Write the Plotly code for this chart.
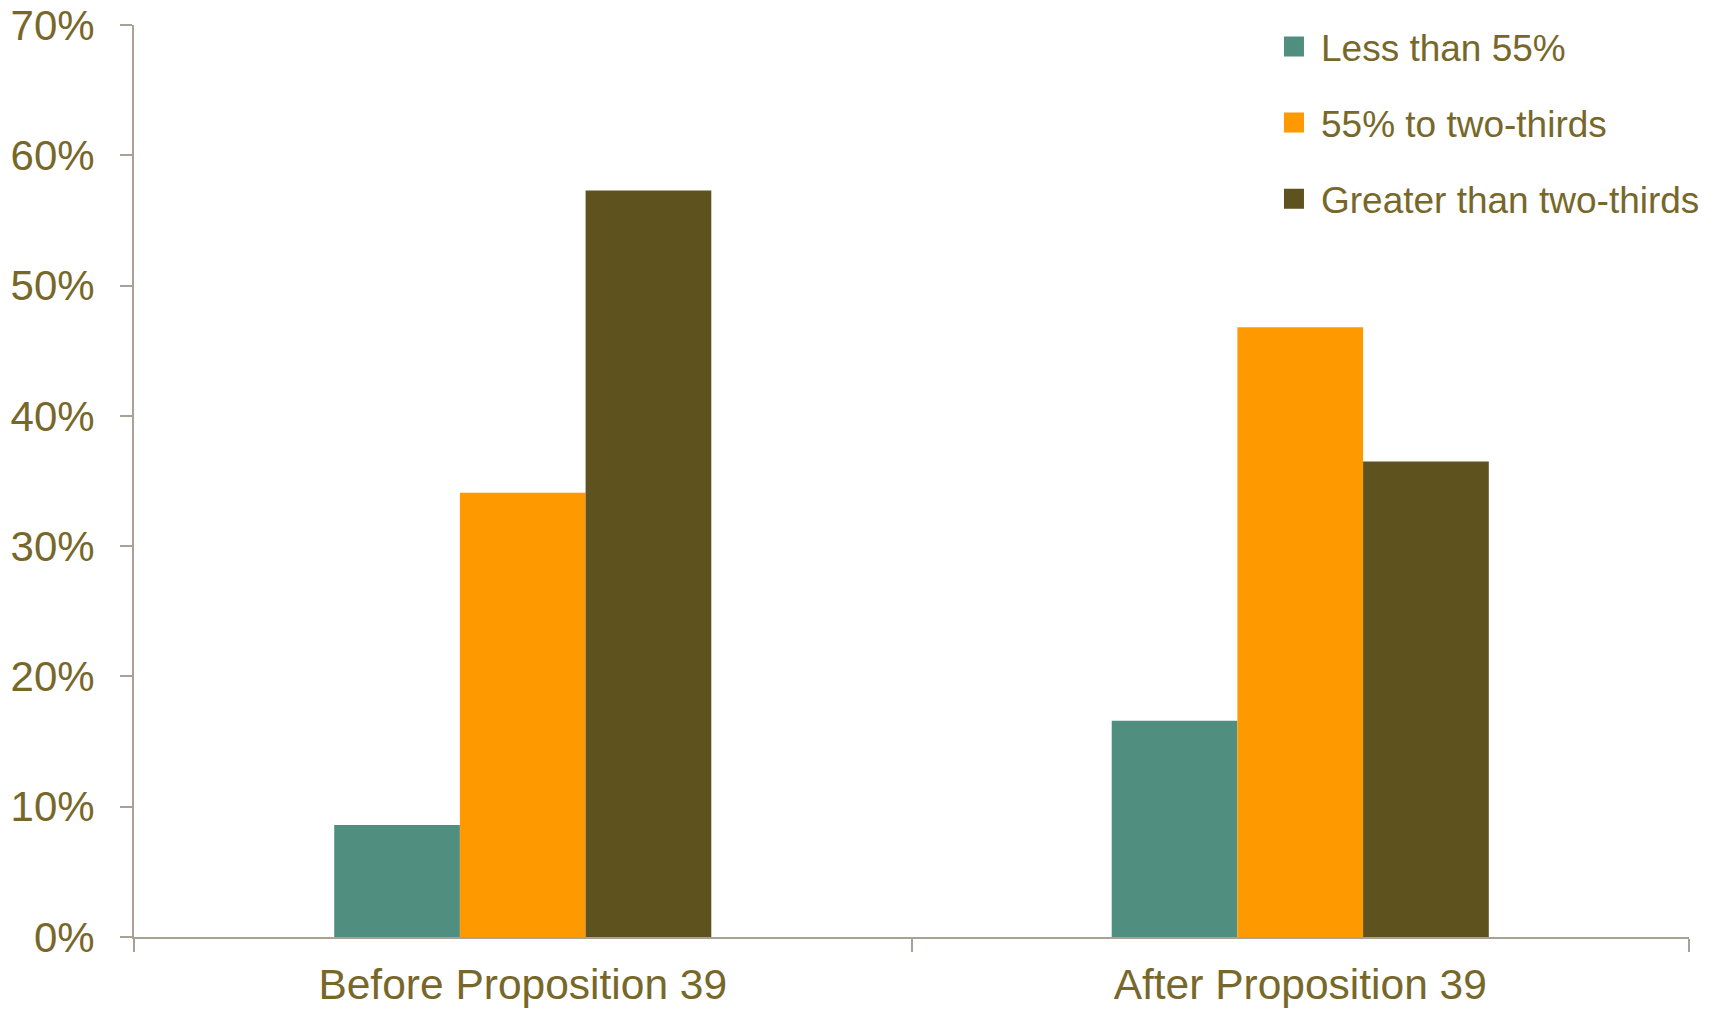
import plotly.graph_objects as go

categories = ["Before Proposition 39", "After Proposition 39"]
series_names = ["Less than 55%", "55% to two-thirds", "Greater than two-thirds"]
less_than_55 = [8.6, 16.6]
between_55_and_two_thirds = [34.1, 46.8]
greater_than_two_thirds = [57.3, 36.5]
y_tick_values = [0, 10, 20, 30, 40, 50, 60, 70]
y_tick_labels = ["0%", "10%", "20%", "30%", "40%", "50%", "60%", "70%"]

colors = ["#508F7F", "#FF9900", "#5E521E"]
text_color = "#77682A"
axis_color = "#A9A195"
font_family = "Liberation Sans, Arial, sans-serif"

series_values = [less_than_55, between_55_and_two_thirds, greater_than_two_thirds]

fig = go.Figure()
for name, vals, col in zip(series_names, series_values, colors):
    fig.add_trace(go.Bar(
        x=categories, y=vals, name=name, marker=dict(color=col, line=dict(width=0)),
        showlegend=False,
    ))
# legend entries (square swatches)
for i, (name, col) in enumerate(zip(series_names, colors)):
    fig.add_trace(go.Scatter(
        x=[None], y=[None], mode="markers", name=name, legendgroup=f"g{i}",
        marker=dict(symbol="square", size=16, color=col, line=dict(color=col, width=4)),
        showlegend=True,
    ))

fig.update_layout(
    width=1716, height=1002,
    margin=dict(l=126, r=35, t=17, b=73, autoexpand=False),
    paper_bgcolor="white", plot_bgcolor="white",
    barmode="group", bargap=0.515, bargroupgap=0,
    font=dict(family=font_family, color=text_color, size=42),
    legend=dict(
        x=0.7286, xanchor="left", y=1.0099, yanchor="top",
        font=dict(family=font_family, color=text_color, size=37),
        itemwidth=44, tracegroupgap=25, bgcolor="rgba(0,0,0,0)",
    ),
    xaxis=dict(
        automargin=False, ticklabeloverflow="allow",
        showline=True, linecolor=axis_color, linewidth=2,
        ticks="outside", tickson="boundaries", ticklen=13, tickwidth=2, tickcolor=axis_color,
        tickfont=dict(size=42.5, color=text_color, family=font_family),
        showgrid=False, zeroline=False, ticklabelstandoff=9,
    ),
    yaxis=dict(
        automargin=False, ticklabeloverflow="allow",
        range=[0, 70], tickvals=y_tick_values, ticktext=y_tick_labels,
        showline=True, linecolor=axis_color, linewidth=2,
        ticks="outside", ticklen=12, tickwidth=2, tickcolor=axis_color,
        tickfont=dict(size=42, color=text_color, family=font_family),
        showgrid=False, zeroline=False, ticklabelstandoff=17,
    ),
)

fig.write_html("out.html")
